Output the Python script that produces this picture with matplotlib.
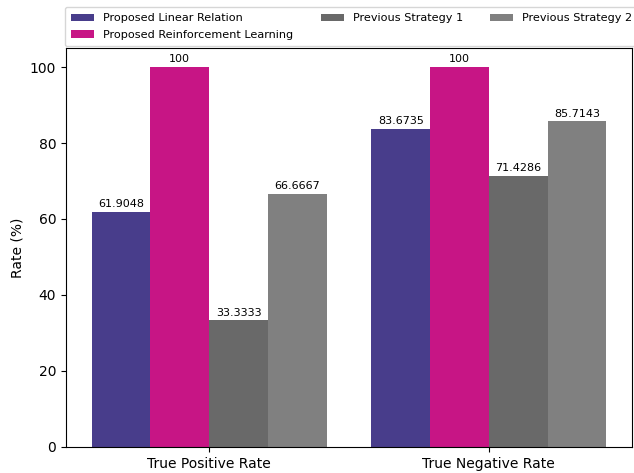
import numpy as np
import matplotlib
matplotlib.use('Agg')
import matplotlib.pyplot as plt

categories = ['True Positive Rate', 'True Negative Rate']
series_names = ['Proposed Linear Relation', 'Proposed Reinforcement Learning',
                'Previous Strategy 1', 'Previous Strategy 2']
linear_relation = [61.9048, 83.6735]
reinforcement = [100, 100]
previous_1 = [33.3333, 71.4286]
previous_2 = [66.6667, 85.7143]
colors = ['darkslateblue', 'mediumvioletred', 'dimgray', 'gray']

values = [linear_relation, reinforcement, previous_1, previous_2]

fig = plt.figure(figsize=(6.34, 4.73), dpi=100)
ax = fig.add_axes([0.1041, 0.055, 0.8927, 0.8435])

x = np.arange(len(categories))
width = 0.21
for i, (name, vals, c) in enumerate(zip(series_names, values, colors)):
    offset = (i - 1.5) * width
    bars = ax.bar(x + offset, vals, width, label=name, color=c)
    ax.bar_label(bars, labels=[f'{v:g}' for v in vals], padding=2, fontsize=8)

ax.set_xticks(x)
ax.set_xticklabels(categories)
ax.set_ylabel('Rate (%)')
ax.set_ylim(0, 105)

ax.legend(bbox_to_anchor=(-0.0053, 1.0), loc='lower left',
          ncol=3, fontsize=8.1, borderaxespad=0.2, labelspacing=0.55,
          borderpad=0.55, handlelength=2.05, columnspacing=2.4)

fig.savefig('out.png', dpi=100)
